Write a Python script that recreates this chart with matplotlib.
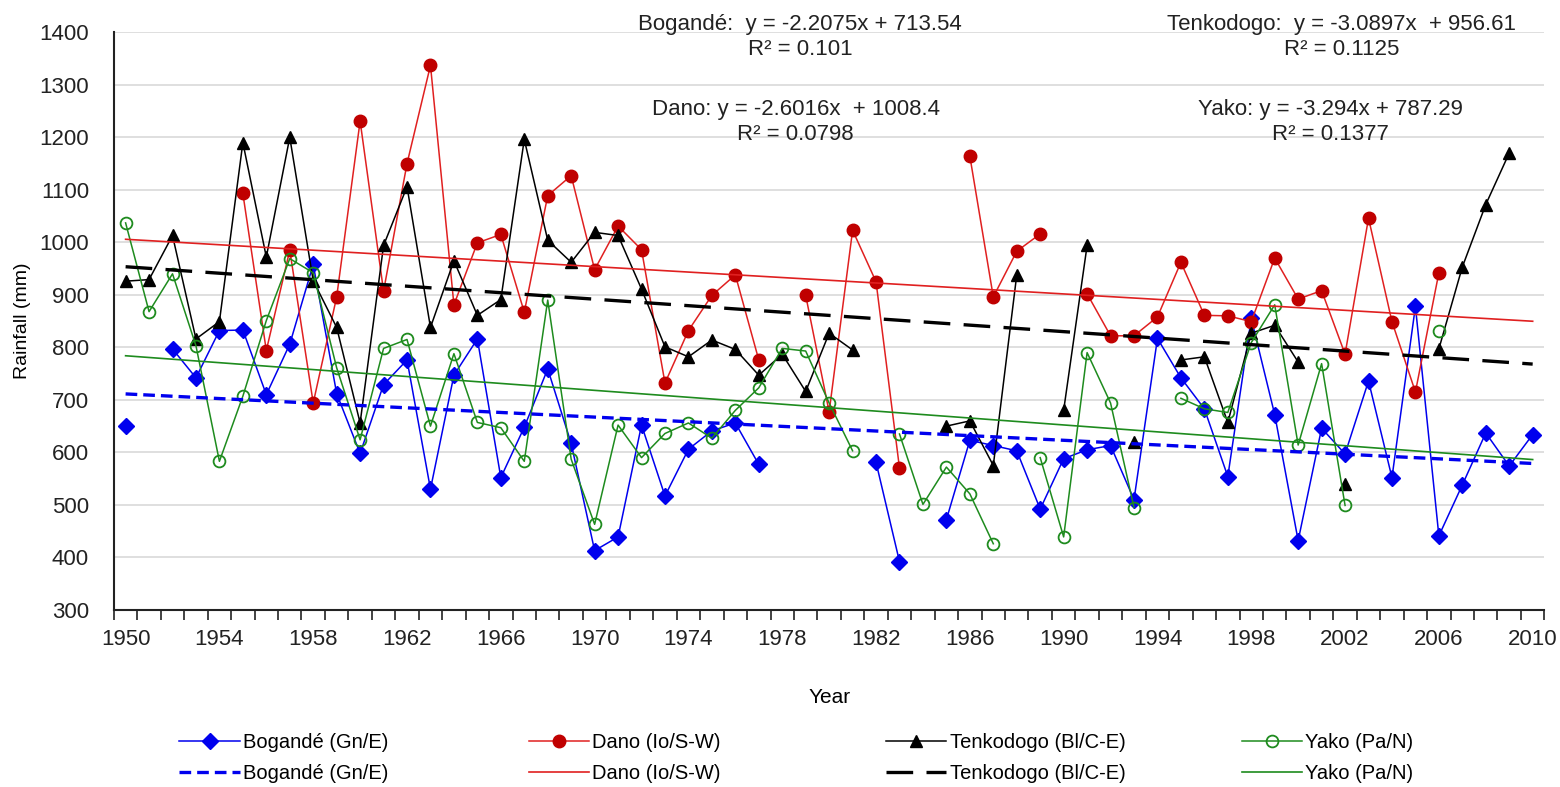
import numpy as np
import matplotlib
matplotlib.use('Agg')
import matplotlib.pyplot as plt

plt.rcParams['font.family'] = ['Liberation Sans', 'DejaVu Sans']

nan = np.nan
years = list(range(1950, 2011))

# annual rainfall (mm), nan = no record
bogande = [650, nan, 797, 742, 832, 833, 710, 806, 958, 712,
           598, 729, 776, 530, 747, 816, 552, 648, 759, 617,
           413, 439, 652, 517, 606, 641, 656, 577, nan, nan,
           nan, nan, 581, 392, nan, 472, 623, 613, 603, 492,
           588, 605, 613, 510, 817, 742, 683, 554, 855, 672,
           432, 646, 597, 736, 552, 878, 441, 538, 637, 574,
           634]
dano = [nan, nan, nan, nan, nan, 1093, 794, 985, 694, 896,
        1231, 907, 1150, 1337, 881, 999, 1015, 867, 1089, 1127,
        948, 1031, 986, 732, 832, 899, 938, 776, nan, 899,
        677, 1023, 925, 570, nan, nan, 1164, 896, 983, 1016,
        nan, 902, 822, 822, 858, 962, 861, 860, 849, 970,
        892, 908, 787, 1046, 849, 715, 942, nan, nan, nan,
        nan]
tenkodogo = [926, 929, 1013, 816, 849, 1190, 972, 1200, 927, 838,
             656, 994, 1106, 838, 965, 861, 891, 1196, 1004, 962,
             1019, 1013, 911, 801, 782, 814, 796, 747, 787, 716,
             827, 795, nan, nan, nan, 650, 660, 575, 938, nan,
             680, 994, nan, 620, nan, 776, 782, 657, 827, 842,
             772, nan, 540, nan, nan, nan, 797, 953, 1072, 1170,
             nan]
yako = [1037, 868, 940, 803, 583, 707, 851, 969, 942, 761,
        624, 798, 815, 650, 788, 657, 647, 583, 890, 587,
        463, 652, 590, 636, 656, 627, 680, 723, 798, 793,
        694, 603, nan, 635, 501, 572, 521, 426, nan, 590,
        439, 790, 694, 495, nan, 703, 683, 676, 809, 881,
        614, 769, 499, nan, nan, nan, 832, nan, nan, nan,
        nan]

names = ['Bogandé (Gn/E)', 'Dano (Io/S-W)', 'Tenkodogo (Bl/C-E)', 'Yako (Pa/N)']
# linear trends, x = 1 for 1950
slopes = [-2.2075, -2.6016, -3.0897, -3.294]
intercepts = [713.54, 1008.4, 956.61, 787.29]
r2 = ['0.101', '0.0798', '0.1125', '0.1377']

series = [bogande, dano, tenkodogo, yako]
line_col = ['#0000EE', '#E02020', '#000000', '#1E8B1E']
mark_col = ['#0000EE', '#C00000', '#000000', '#1E8B1E']
markers = ['D', 'o', '^', 'o']
msizes = [8, 9, 9, 8.5]
trend_ls = [(0, (3.5, 1.8)), '-', (0, (8, 4)), '-']
trend_lw = [2.4, 1.2, 2.4, 1.2]

fig = plt.figure(figsize=(15.6, 7.87), dpi=100)
ax = fig.add_axes([0.073, 0.225, 0.917, 0.734])

x = np.array(years)
t = x - 1949
handles = []
for i, vals in enumerate(series):
    filled = i != 3
    h1, = ax.plot(x, vals, color=line_col[i], lw=1.1, marker=markers[i], ms=msizes[i],
                  mfc=mark_col[i] if filled else 'none', mec=mark_col[i],
                  mew=1.0 if filled else 1.3, zorder=3 + i)
    h2, = ax.plot(x, slopes[i] * t + intercepts[i], color=line_col[i], lw=trend_lw[i],
                  ls=trend_ls[i], zorder=8)
    handles.append((h1, h2))

ax.set_xlim(1949.5, 2010.5)
ax.set_ylim(300, 1400)
ax.set_yticks(range(300, 1401, 100))
ax.set_xticks(range(1950, 2011, 4))
ax.set_xticks(np.arange(1949.5, 2011, 1), minor=True)
ax.tick_params(axis='x', which='major', length=0, pad=14, labelsize=16, colors='#222222')
ax.tick_params(axis='x', which='minor', length=7, width=1.2, direction='out', color='#222222')
ax.tick_params(axis='y', length=0, pad=18, labelsize=16, colors='#222222')
ax.grid(axis='y', color='#D9D9D9', lw=1.2)
ax.set_axisbelow(True)
for s in ['top', 'right']:
    ax.spines[s].set_visible(False)
for s in ['left', 'bottom']:
    ax.spines[s].set_color('#222222')
    ax.spines[s].set_linewidth(1.5)

ax.set_ylabel('Rainfall (mm)', fontsize=14, labelpad=6)
ax.set_xlabel('Year', fontsize=15, labelpad=27)

# trend equations
eq_pos = [(0.513, 0.953), (0.510, 0.845), (0.860, 0.953), (0.853, 0.845)]
eq_txt = ['Bogandé:  y = -2.2075x + 713.54', 'Dano: y = -2.6016x  + 1008.4',
          'Tenkodogo:  y = -3.0897x  + 956.61', 'Yako: y = -3.294x + 787.29']
for i in range(4):
    fig.text(eq_pos[i][0], eq_pos[i][1], eq_txt[i] + '\nR² = ' + r2[i], ha='center',
             va='center', multialignment='center', fontsize=16, color='#222222',
             linespacing=1.25)

# legends, one per station
leg_x = [0.115, 0.339, 0.568, 0.796]
for i in range(4):
    h1, h2 = handles[i]
    fig.legend([h1, h2], [names[i], names[i]], loc='upper left',
               bbox_to_anchor=(leg_x[i], 0.068), frameon=False, fontsize=14.5,
               handlelength=3.0, handletextpad=0.15, labelspacing=0.55,
               borderpad=0, borderaxespad=0)

fig.savefig('out.png', dpi=100)
